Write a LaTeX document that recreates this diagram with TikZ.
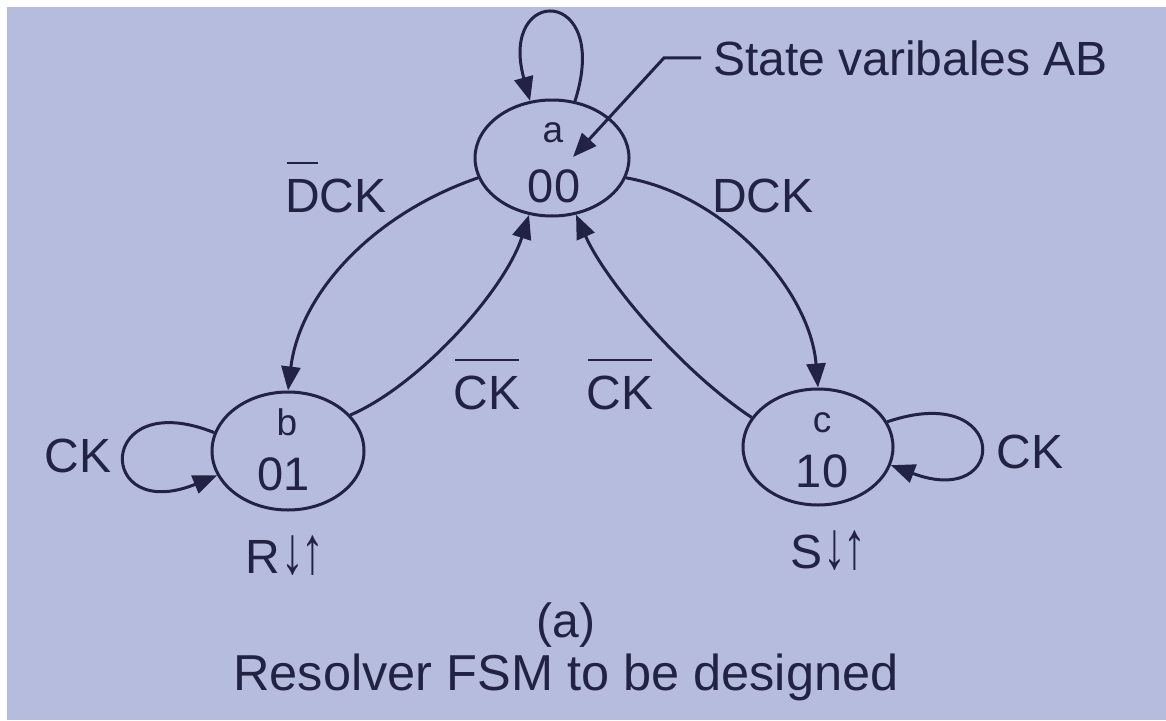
\documentclass[tikz,border=0pt]{standalone}
\usepackage{fontspec}
\usepackage{graphicx}
\setmainfont{Liberation Sans}
\usetikzlibrary{shapes.geometric,arrows.meta}
\definecolor{bg}{RGB}{182,188,221}
\definecolor{ink}{RGB}{34,34,68}
\newcommand\ovbar[1]{\setbox0=\hbox{#1}\rlap{\kern1.5pt\raisebox{48pt}{\rule{\dimexpr\wd0-3pt\relax}{2.5pt}}}\box0}
\newcommand\dnup{\kern1pt\scalebox{0.95}[1.4]{↓}\kern-3pt\scalebox{0.95}[1.4]{↑}}
\tikzset{
  stt/.style={ellipse, draw=ink, line width=3pt, inner sep=0pt},
  lbl/.style={text=ink, inner sep=0pt, anchor=base, font=\fontsize{48}{56}\selectfont},
  sml/.style={lbl, font=\fontsize{37}{42}\selectfont},
  code/.style={lbl, font=\fontsize{47}{52}\selectfont},
  edge/.style={draw=ink, line width=3pt, -{Triangle[length=24pt,width=19pt]}},
}
\begin{document}
\begin{tikzpicture}[x=1pt,y=-1pt]
\useasboundingbox (0,0) rectangle (1166,720);
\fill[white] (0,0) rectangle (1166,720);
\fill[bg] (7,7) rectangle (1166,720);

% states
\node[stt, minimum width=154pt, minimum height=116pt] (a) at (552,158) {};
\node[stt, minimum width=152pt, minimum height=118pt] (b) at (288,451) {};
\node[stt, minimum width=150pt, minimum height=116pt] (c) at (818,447) {};

\node[sml] (ta) at (553,142) {a};
\node[code] (ca) at (554,202) {00};
\node[sml] (tb) at (287,435) {b};
\node[code] (cb) at (284,490) {01};
\node[sml] (tc) at (822,432) {c};
\node[code] (cc) at (822,487) {10};

% outputs
\node[lbl] (ob) at (285,573) {R\dnup};
\node[lbl] (oc) at (828,568) {S\dnup};

% transitions
\draw[edge] (a.195) .. controls (373,214) and (300,293) .. (b.north);
\draw[edge] (b.30) .. controls (420,385) and (505,290) .. (a.248);
\draw[edge] (c.156) .. controls (680,370) and (605,280) .. (a.293);
\draw[edge] (a.345) .. controls (725,195) and (810,290) .. (c.north);

% self loops
\draw[edge] (a.68) .. controls (612,-15) and (498,-15) .. (a.111);
\draw[edge] (b.166) .. controls (95,385) and (95,525) .. (b.199);
\draw[edge] (c.20) .. controls (1010,380) and (1010,510) .. (c.346);

% labels
\node[lbl] (l1) at (336,212) {\ovbar{D}CK};
\node[lbl] (l2) at (763,212) {DCK};
\node[lbl] (l3) at (487,409) {\ovbar{CK}};
\node[lbl] (l4) at (620,409) {\ovbar{CK}};
\node[lbl] (l5) at (78,472) {CK};
\node[lbl] (l6) at (1030,468) {CK};

% annotation
\node[lbl, anchor=base west] (sv) at (713,75) {State varibales AB};
\coordinate (lt) at (573,157);
\draw[edge] ([xshift=-12pt]sv.west) -- ++(-37,0) -- (lt);

% caption
\node[lbl, font=\fontsize{48}{56}\selectfont] (cap1) at (566,637) {(a)};
\node[lbl, font=\fontsize{50.5}{58}\selectfont] (cap2) at (566,690) {Resolver FSM to be designed};
\end{tikzpicture}
\end{document}
